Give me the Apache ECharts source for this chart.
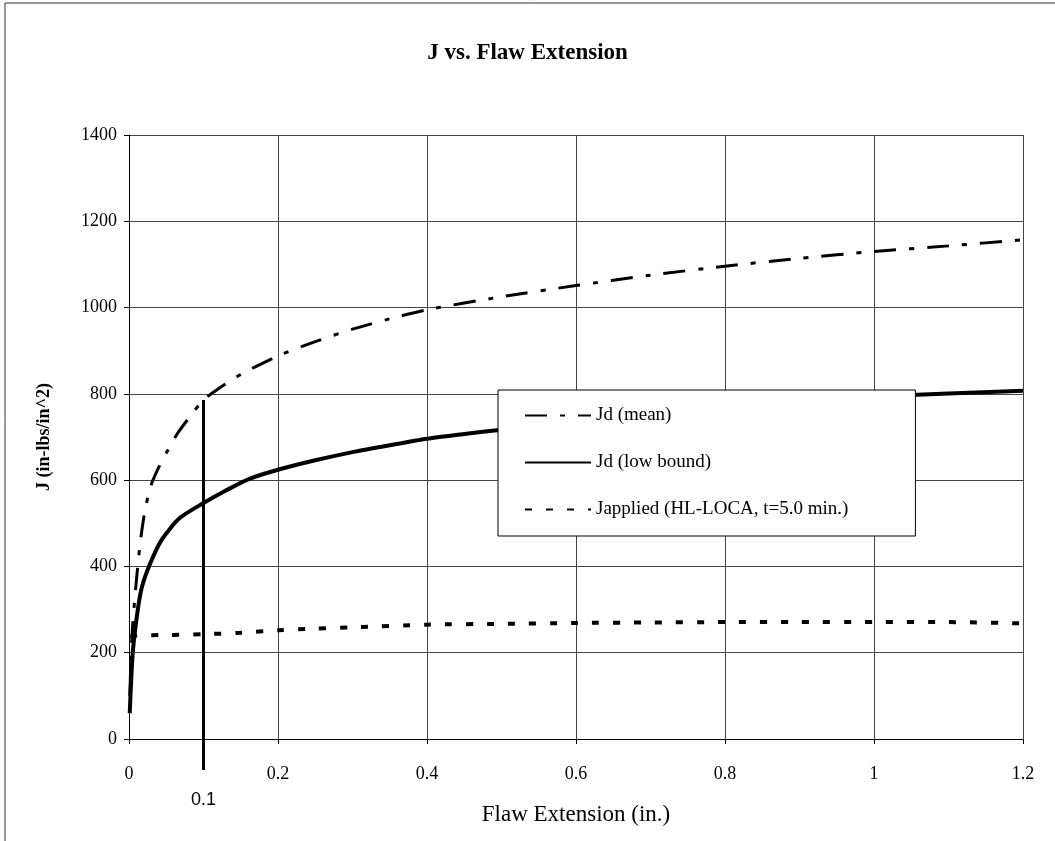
<!DOCTYPE html>
<html>
<head>
<meta charset="utf-8">
<style>
  html, body { margin: 0; padding: 0; background: #fff; }
  #chart { width: 1055px; height: 841px; }
</style>
<script src="https://cdn.jsdelivr.net/npm/echarts@6/dist/echarts.min.js"></script>
</head>
<body>
<div id="chart"></div>
<script>
// ---- Data ----
const titleText = 'J vs. Flaw Extension';
const xAxisName = 'Flaw Extension (in.)';
const yAxisName = 'J (in-lbs/in^2)';
const seriesNames = ['Jd (mean)', 'Jd (low bound)', 'Japplied (HL-LOCA, t=5.0 min.)'];

const jdMean = [
  [0.001, 100], [0.004, 240], [0.008, 330], [0.012, 405], [0.016, 468],
  [0.022, 535], [0.03, 590], [0.04, 630], [0.05, 663], [0.065, 708],
  [0.083, 750], [0.1, 786], [0.12, 812], [0.15, 845], [0.2, 888],
  [0.25, 921], [0.3, 950], [0.35, 974], [0.4, 995], [0.5, 1025],
  [0.6, 1051], [0.7, 1075], [0.8, 1096], [0.9, 1114], [1.0, 1130],
  [1.1, 1143], [1.2, 1157]
];
const jdLow = [
  [0.001, 60], [0.005, 199], [0.011, 290], [0.017, 350], [0.028, 405],
  [0.044, 462], [0.068, 512], [0.1, 547], [0.13, 576], [0.16, 602],
  [0.2, 624], [0.25, 646], [0.3, 665], [0.35, 681], [0.4, 696],
  [0.45, 707], [0.5, 717], [0.6, 738], [0.7, 756], [0.8, 771],
  [0.9, 784], [1.0, 793], [1.1, 801], [1.2, 807]
];
const jApplied = [
  [0.002, 236], [0.01, 240], [0.05, 241], [0.1, 243], [0.15, 246],
  [0.2, 252], [0.25, 256], [0.3, 259], [0.4, 265], [0.5, 267],
  [0.6, 269], [0.7, 270], [0.8, 271], [0.9, 271], [1.0, 271],
  [1.1, 271], [1.2, 268]
];
// vertical marker at 0.1 in. from the mean curve down below the axis
const markerX = 0.1;
const markerTop = 786;
const markerBottom = -72;
const markerLabel = '0.1';

const xMin = 0, xMax = 1.2, xInterval = 0.2;
const yMin = 0, yMax = 1400, yInterval = 200;

// ---- Chart ----
const chart = echarts.init(document.getElementById('chart'));
const serif = '"Liberation Serif", "Times New Roman", serif';

const option = {
  backgroundColor: '#fff',
  animation: false,
  title: {
    text: titleText,
    left: 'center',
    top: 37,
    textStyle: { fontFamily: serif, fontWeight: 'bold', fontSize: 23, color: '#000' }
  },
  graphic: [{
    type: 'rect',
    shape: { x: 5, y: 3, width: 1100, height: 900 },
    style: { fill: 'none', stroke: '#333', lineWidth: 1 },
    silent: true, z: -10
  }],
  grid: { left: 129, right: 32, top: 135, bottom: 102, containLabel: false },
  legend: {
    orient: 'vertical',
    left: 498,
    top: 390,
    data: seriesNames,
    backgroundColor: '#fff',
    borderColor: '#000',
    borderWidth: 1,
    padding: [16, 67, 17, 26],
    itemGap: 28,
    itemWidth: 66,
    itemHeight: 14,
    itemStyle: { opacity: 0 },
    textStyle: { fontFamily: serif, fontSize: 19, color: '#000' },
    z: 10
  },
  xAxis: {
    type: 'value',
    min: xMin, max: xMax, interval: xInterval,
    name: xAxisName,
    nameLocation: 'middle',
    nameGap: 64,
    nameTextStyle: { fontFamily: serif, fontSize: 23, color: '#000' },
    axisLine: { show: true, onZero: false, lineStyle: { color: '#000', width: 1 } },
    axisTick: { show: true, inside: false, length: 5, lineStyle: { color: '#000' } },
    axisLabel: { fontFamily: serif, fontSize: 18, color: '#000', margin: 26,
      formatter: v => String(+v.toFixed(2)) },
    splitLine: { show: true, lineStyle: { color: '#444', width: 1 } }
  },
  yAxis: {
    type: 'value',
    min: yMin, max: yMax, interval: yInterval,
    name: yAxisName,
    nameLocation: 'middle',
    nameGap: 76,
    nameRotate: 90,
    nameTextStyle: { fontFamily: serif, fontSize: 18, fontWeight: 'bold', color: '#000' },
    axisLine: { show: true, lineStyle: { color: '#000', width: 1 } },
    axisTick: { show: true, inside: false, length: 5, lineStyle: { color: '#000' } },
    axisLabel: { fontFamily: serif, fontSize: 18, color: '#000', margin: 12,
      formatter: v => String(v) },
    splitLine: { show: true, lineStyle: { color: '#444', width: 1 } }
  },
  series: [
    {
      name: seriesNames[0],
      type: 'line',
      data: jdMean,
      symbol: 'none',
      smooth: 0.25,
      lineStyle: { color: '#000', width: 3, type: [22, 13, 5, 13], cap: 'butt' },
      itemStyle: { color: '#000' }
    },
    {
      name: seriesNames[1],
      type: 'line',
      data: jdLow,
      symbol: 'none',
      smooth: 0.25,
      lineStyle: { color: '#000', width: 4, type: 'solid', join: 'round' },
      itemStyle: { color: '#000' }
    },
    {
      name: seriesNames[2],
      type: 'line',
      data: jApplied,
      symbol: 'none',
      smooth: 0.25,
      lineStyle: { color: '#000', width: 4, type: [7, 14], cap: 'butt' },
      itemStyle: { color: '#000' }
    },
    {
      name: 'marker',
      type: 'line',
      clip: false,
      silent: true,
      symbol: 'none',
      lineStyle: { color: '#000', width: 3 },
      data: [[markerX, markerTop], [markerX, markerBottom]],
      markPoint: {
        silent: true,
        symbol: 'rect',
        symbolSize: 1,
        itemStyle: { color: 'rgba(0,0,0,0)' },
        label: {
          show: true, position: 'bottom', distance: 52,
          formatter: markerLabel,
          fontFamily: '"Liberation Sans", Arial, sans-serif',
          fontSize: 18, color: '#000'
        },
        data: [{ coord: [markerX, yMin] }]
      },
      z: 5
    }
  ]
};
chart.setOption(option);
</script>
</body>
</html>
